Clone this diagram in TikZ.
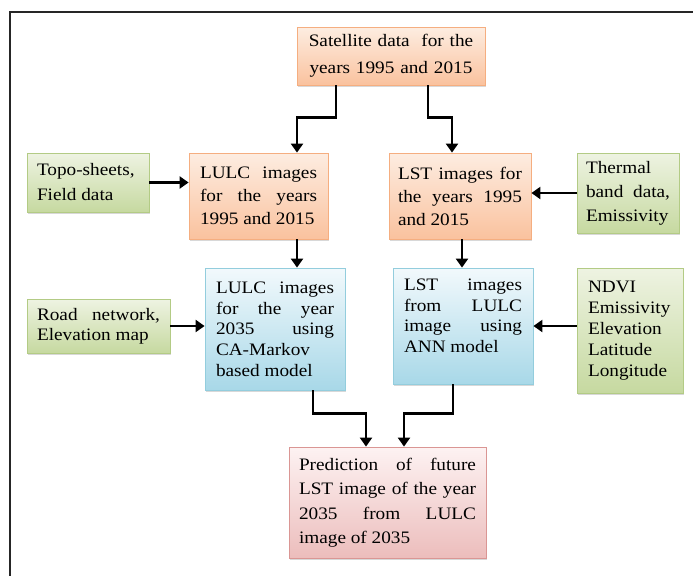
\documentclass[tikz,border=0pt]{standalone}
\usepackage{fontspec}
\setmainfont{Liberation Serif}[FakeStretch=1.1]
\usetikzlibrary{arrows.meta,shadows}

\definecolor{orangetop}{HTML}{FDEDE1}
\definecolor{orangebot}{HTML}{FAC29E}
\definecolor{orangeline}{HTML}{F5AE80}
\definecolor{greentop}{HTML}{EEF3E2}
\definecolor{greenbot}{HTML}{C6D9A0}
\definecolor{greenline}{HTML}{B3CB85}
\definecolor{bluetop}{HTML}{F2F9FC}
\definecolor{bluebot}{HTML}{A8D8E8}
\definecolor{blueline}{HTML}{93CDDD}
\definecolor{redtop}{HTML}{FDF2F2}
\definecolor{redbot}{HTML}{ECBDBC}
\definecolor{redline}{HTML}{DA9694}

\newcommand{\boxfont}[1]{\fontsize{17.5}{#1}\selectfont}

\begin{document}
\begin{tikzpicture}[
    x=1pt, y=-1pt,
    box/.style={rectangle, draw, line width=0.8pt, align=justify, inner xsep=11pt, inner ysep=0pt,
      drop shadow={shadow xshift=0.8pt, shadow yshift=-1.8pt, fill=black!30}},
    orangebox/.style={box, draw=orangeline, top color=orangetop, bottom color=orangebot},
    greenbox/.style={box, draw=greenline, top color=greentop, bottom color=greenbot},
    bluebox/.style={box, draw=blueline, top color=bluetop, bottom color=bluebot},
    redbox/.style={box, draw=redline, top color=redtop, bottom color=redbot},
    arr/.style={-{Triangle[length=9pt,width=12pt]}, line width=2.8pt}
  ]
    \useasboundingbox (0,0) rectangle (693,576);
    \draw[line width=1.4pt, black!85] (693,12) -- (10,12) -- (10,576);

    \node[orangebox, align=center, text width=166pt, minimum height=58pt, font=\boxfont{27}] (sat) at (391,56)
      {Satellite data\ \ for the\\ years 1995 and 2015};
    \node[orangebox, text width=117pt, minimum height=86pt, font=\boxfont{23}] (lulc) at (258.5,196)
      {LULC images\linebreak for the years\linebreak 1995 and 2015};
    \node[orangebox, inner xsep=9pt, text width=124pt, minimum height=86pt, font=\boxfont{23}] (lst) at (460,196)
      {LST images for\linebreak the years 1995\linebreak and 2015};
    \node[greenbox, inner xsep=10pt, text width=102pt, minimum height=59pt, font=\boxfont{25}] (topo) at (88,182.5)
      {Topo-sheets,\linebreak Field data};
    \node[greenbox, inner xsep=9pt, text width=84pt, minimum height=80pt, font=\boxfont{24}] (thermal) at (628,193)
      {Thermal\linebreak band data,\linebreak Emissivity};
    \node[bluebox, text width=118pt, minimum height=122pt, font=\boxfont{20.7}] (lulcf) at (275,329)
      {LULC images\linebreak for the year\linebreak 2035 using\linebreak CA-Markov\linebreak based model};
    \node[bluebox, text width=118pt, minimum height=116pt, font=\boxfont{20.7}] (lstf) at (463,326)
      {LST images\linebreak from LULC\linebreak image using\linebreak ANN model\par\rule{0pt}{0pt}};
    \node[greenbox, inner xsep=10pt, text width=123pt, minimum height=54pt, font=\boxfont{20}] (road) at (98.5,326)
      {Road network,\linebreak Elevation map};
    \node[greenbox, align=left, text width=84pt, minimum height=125pt, font=\boxfont{21}] (ndvi) at (630,330.5)
      {NDVI\\ Emissivity\\ Elevation\\ Latitude\\ Longitude};
    \node[redbox, inner xsep=10pt, text width=177pt, minimum height=111pt, font=\boxfont{24.5}] (pred) at (387.5,502.5)
      {Prediction of future\linebreak LST image of the year\linebreak 2035 from LULC\linebreak image of 2035};

    % flow from the satellite data down to the prediction
    \draw[arr] ([xshift=-55pt]sat.south) -- ++(0,32) -| ([xshift=38.5pt]lulc.north);
    \draw[arr] ([xshift=37pt]sat.south) -- ++(0,32) -| ([xshift=-8pt]lst.north);
    \draw[arr] ([xshift=38.5pt]lulc.south) -- ([xshift=38.5pt]lulc.south |- lulcf.north);
    \draw[arr] ([xshift=2pt]lst.south) -- ([xshift=2pt]lst.south |- lstf.north);
    \draw[arr] ([xshift=38pt]lulcf.south) -- ++(0,23) -| ([xshift=-21.5pt]pred.north);
    \draw[arr] ([xshift=-10pt]lstf.south) -- ++(0,29) -| ([xshift=16.5pt]pred.north);

    % side inputs
    \draw[arr] (topo.east) -- (topo.east -| lulc.west);
    \draw[arr] (thermal.west) -- (thermal.west -| lst.east);
    \draw[arr] (road.east) -- (road.east -| lulcf.west);
    \draw[arr] (ndvi.west |- lstf.east) -- (lstf.east);
  \end{tikzpicture}
\end{document}
